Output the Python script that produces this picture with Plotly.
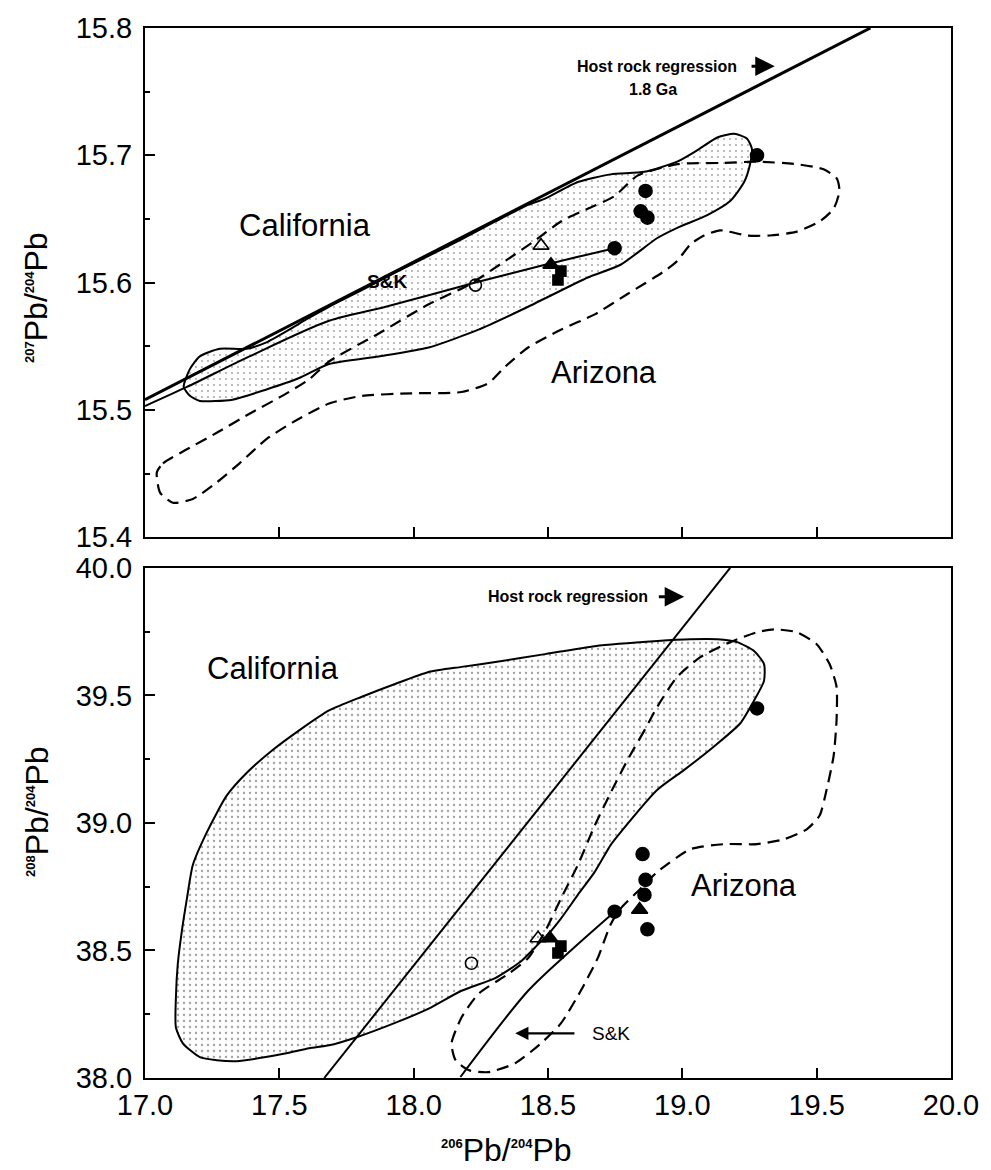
import plotly.graph_objects as go

FONT = "Liberation Sans, Arial, Helvetica, sans-serif"

# ---------------- upper panel: 207Pb/204Pb vs 206Pb/204Pb ----------------
cal_top_x = [17.144, 17.167, 17.204, 17.278, 17.378, 17.452, 17.537, 17.600, 17.685, 17.807,
             17.933, 18.056, 18.178, 18.304, 18.426, 18.489, 18.611, 18.733, 18.859, 18.981,
             19.056, 19.130, 19.193, 19.241, 19.259, 19.252, 19.230, 19.178, 19.093, 18.981,
             18.907, 18.770, 18.648, 18.426, 18.241, 18.056, 17.870, 17.685, 17.574, 17.452,
             17.326, 17.204, 17.167, 17.144]
cal_top_y = [15.518, 15.532, 15.542, 15.548, 15.548, 15.553, 15.563, 15.571, 15.581, 15.594,
             15.608, 15.621, 15.634, 15.648, 15.661, 15.666, 15.679, 15.685, 15.687, 15.695,
             15.704, 15.714, 15.717, 15.713, 15.705, 15.693, 15.679, 15.664, 15.653, 15.643,
             15.635, 15.614, 15.604, 15.581, 15.563, 15.549, 15.542, 15.536, 15.525, 15.516,
             15.508, 15.507, 15.511, 15.518]

az_top_x = [17.044, 17.067, 17.156, 17.267, 17.389, 17.511, 17.611, 17.685, 17.870, 18.056,
            18.204, 18.341, 18.452, 18.548, 18.648, 18.748, 18.833, 18.981, 19.156, 19.278,
            19.426, 19.526, 19.574, 19.585, 19.563, 19.511, 19.426, 19.326, 19.241, 19.141,
            19.081, 19.030, 18.981, 18.933, 18.796, 18.674, 18.548, 18.426, 18.341, 18.278,
            18.178, 17.993, 17.807, 17.685, 17.548, 17.452, 17.352, 17.267, 17.178, 17.104,
            17.056, 17.044]
az_top_y = [15.451, 15.458, 15.469, 15.482, 15.497, 15.511, 15.524, 15.538, 15.560, 15.583,
            15.598, 15.617, 15.633, 15.648, 15.658, 15.668, 15.684, 15.693, 15.694, 15.695,
            15.693, 15.689, 15.682, 15.672, 15.658, 15.648, 15.640, 15.637, 15.637, 15.641,
            15.637, 15.630, 15.617, 15.609, 15.591, 15.575, 15.563, 15.549, 15.534, 15.521,
            15.514, 15.513, 15.511, 15.505, 15.490, 15.477, 15.458, 15.443, 15.430, 15.427,
            15.435, 15.451]

sk_top_x = [17.000, 17.156, 17.389, 17.685, 17.896, 18.230, 18.489, 18.748]
sk_top_y = [15.503, 15.518, 15.542, 15.570, 15.581, 15.600, 15.614, 15.627]

reg_top_x = [17.00, 19.70]
reg_top_y = [15.508, 15.800]

top_fcirc_x = [19.278, 18.863, 18.845, 18.870, 18.748]
top_fcirc_y = [15.700, 15.672, 15.656, 15.651, 15.627]
top_ftri_x = [18.511]
top_ftri_y = [15.614]
top_otri_x = [18.474]
top_otri_y = [15.629]
top_fsq_x = [18.548, 18.537]
top_fsq_y = [15.609, 15.602]
top_ocirc_x = [18.230]
top_ocirc_y = [15.598]

# ---------------- lower panel: 208Pb/204Pb vs 206Pb/204Pb ----------------
cal_bot_x = [17.230, 17.304, 17.378, 17.474, 17.574, 17.685, 17.807, 17.933, 18.056, 18.178,
             18.304, 18.489, 18.674, 18.907, 19.030, 19.130, 19.204, 19.267, 19.304, 19.304,
             19.267, 19.215, 19.119, 19.007, 18.907, 18.770, 18.733, 18.674, 18.611, 18.548,
             18.500, 18.463, 18.400, 18.304, 18.178, 18.056, 17.933, 17.785, 17.685, 17.611,
             17.526, 17.426, 17.341, 17.267, 17.204, 17.141, 17.115, 17.115, 17.122, 17.137,
             17.156, 17.178, 17.230]
cal_bot_y = [38.963, 39.107, 39.196, 39.285, 39.363, 39.441, 39.495, 39.546, 39.592, 39.612,
             39.631, 39.662, 39.693, 39.713, 39.720, 39.720, 39.709, 39.674, 39.623, 39.557,
             39.480, 39.390, 39.301, 39.208, 39.130, 38.963, 38.913, 38.808, 38.718, 38.625,
             38.563, 38.524, 38.458, 38.392, 38.342, 38.272, 38.217, 38.159, 38.128, 38.117,
             38.097, 38.078, 38.066, 38.070, 38.082, 38.136, 38.198, 38.315, 38.447, 38.575,
             38.703, 38.835, 38.963]

az_bot_x = [18.907, 18.859, 18.796, 18.733, 18.674, 18.611, 18.548, 18.489, 18.426, 18.352,
            18.241, 18.178, 18.141, 18.156, 18.204, 18.278, 18.378, 18.474, 18.548, 18.622,
            18.685, 18.733, 18.770, 18.844, 18.907, 19.030, 19.156, 19.278, 19.378, 19.463,
            19.511, 19.537, 19.563, 19.574, 19.574, 19.548, 19.500, 19.426, 19.341, 19.278,
            19.178, 19.067, 18.981, 18.907]
az_bot_y = [39.456, 39.363, 39.247, 39.118, 38.990, 38.835, 38.703, 38.575, 38.470, 38.408,
            38.330, 38.237, 38.136, 38.070, 38.031, 38.023, 38.058, 38.136, 38.214, 38.342,
            38.470, 38.602, 38.664, 38.742, 38.808, 38.897, 38.917, 38.917, 38.936, 38.975,
            39.029, 39.130, 39.262, 39.402, 39.534, 39.623, 39.701, 39.748, 39.759, 39.748,
            39.709, 39.650, 39.573, 39.456]

sk_bot_x = [18.174, 18.426, 18.585, 18.748]
sk_bot_y = [38.004, 38.342, 38.500, 38.652]

reg_bot_x = [17.667, 19.178]
reg_bot_y = [38.000, 40.000]

bot_fcirc_x = [19.278, 18.852, 18.863, 18.859, 18.870, 18.748]
bot_fcirc_y = [39.449, 38.878, 38.777, 38.718, 38.583, 38.652]
bot_ftri_x = [18.841, 18.507]
bot_ftri_y = [38.660, 38.548]
bot_otri_x = [18.463]
bot_otri_y = [38.548]
bot_fsq_x = [18.548, 18.537]
bot_fsq_y = [38.517, 38.490]
bot_ocirc_x = [18.215]
bot_ocirc_y = [38.450]

x_ticks = [17.0, 17.5, 18.0, 18.5, 19.0, 19.5, 20.0]
y_top_ticks = [15.4, 15.5, 15.6, 15.7, 15.8]
y_top_minor = [15.45, 15.55, 15.65, 15.75]
y_bot_ticks = [38.0, 38.5, 39.0, 39.5, 40.0]
y_bot_minor = [38.25, 38.75, 39.25, 39.75]

fig = go.Figure()


def add_panel(xa, ya, cal_x, cal_y, az_x, az_y, sk_x, sk_y, reg_x, reg_y, reg_w,
              fc, ft, ot, fs, oc, solidity):
    # California field: stippled, solid outline
    fig.add_trace(go.Scatter(
        x=cal_x, y=cal_y, xaxis=xa, yaxis=ya, mode="lines", fill="toself",
        fillcolor="rgba(0,0,0,0)",
        fillpattern=dict(shape=".", size=6, solidity=solidity, fgcolor="#444",
                         bgcolor="white", fillmode="overlay"),
        line=dict(color="black", width=2, shape="spline", smoothing=0.6),
        hoverinfo="skip"))
    # Arizona field: dashed outline
    fig.add_trace(go.Scatter(
        x=az_x, y=az_y, xaxis=xa, yaxis=ya, mode="lines",
        line=dict(color="black", width=2.2, dash="12px,7px", shape="spline", smoothing=0.6),
        hoverinfo="skip"))
    # Stacey & Kramers growth curve
    fig.add_trace(go.Scatter(
        x=sk_x, y=sk_y, xaxis=xa, yaxis=ya, mode="lines",
        line=dict(color="black", width=2, shape="spline", smoothing=0.8),
        hoverinfo="skip"))
    # host rock regression
    fig.add_trace(go.Scatter(
        x=reg_x, y=reg_y, xaxis=xa, yaxis=ya, mode="lines",
        line=dict(color="black", width=reg_w), hoverinfo="skip"))
    # samples
    marks = [
        (fc, "circle", 13),
        (ft, "triangle-up", 14),
        (ot, "triangle-up-open", 14),
        (fs, "square", 10),
        (oc, "circle-open", 12),
    ]
    for (mx, my), sym, size in marks:
        fig.add_trace(go.Scatter(
            x=mx, y=my, xaxis=xa, yaxis=ya, mode="markers",
            marker=dict(symbol=sym, size=size, color="black",
                        line=dict(color="black", width=1.6)),
            hoverinfo="skip"))


add_panel("x", "y", cal_top_x, cal_top_y, az_top_x, az_top_y, sk_top_x, sk_top_y,
          reg_top_x, reg_top_y, 3,
          (top_fcirc_x, top_fcirc_y), (top_ftri_x, top_ftri_y), (top_otri_x, top_otri_y),
          (top_fsq_x, top_fsq_y), (top_ocirc_x, top_ocirc_y), 0.08)
add_panel("x2", "y2", cal_bot_x, cal_bot_y, az_bot_x, az_bot_y, sk_bot_x, sk_bot_y,
          reg_bot_x, reg_bot_y, 2,
          (bot_fcirc_x, bot_fcirc_y), (bot_ftri_x, bot_ftri_y), (bot_otri_x, bot_otri_y),
          (bot_fsq_x, bot_fsq_y), (bot_ocirc_x, bot_ocirc_y), 0.12)

axis_common = dict(showline=True, linecolor="black", linewidth=2, mirror=True,
                   ticks="inside", ticklen=10, tickwidth=2, tickcolor="black",
                   showgrid=False, zeroline=False,
                   tickfont=dict(family=FONT, size=29, color="black"))

tick_txt = lambda v: [f"{t:.1f}" for t in v]

fig.update_layout(
    width=991, height=1170,
    margin=dict(l=145, r=36, t=18, b=92),
    paper_bgcolor="white", plot_bgcolor="white",
    showlegend=False,
    xaxis=dict(axis_common, domain=[0, 1], anchor="y", range=[17, 20],
               tickvals=x_ticks, showticklabels=False),
    yaxis=dict(axis_common, domain=[0.5151, 1], anchor="x", range=[15.4, 15.8],
               tickvals=y_top_ticks, ticktext=tick_txt(y_top_ticks), ticklabelstandoff=5,
               minor=dict(tickvals=y_top_minor, ticks="inside", ticklen=5, tickwidth=2,
                          tickcolor="black")),
    xaxis2=dict(axis_common, domain=[0, 1], anchor="y2", range=[17, 20],
                tickvals=x_ticks, ticktext=tick_txt(x_ticks), ticklabelstandoff=0),
    yaxis2=dict(axis_common, domain=[0, 0.4858], anchor="x2", range=[38, 40],
                tickvals=y_bot_ticks, ticktext=tick_txt(y_bot_ticks), ticklabelstandoff=5,
                minor=dict(tickvals=y_bot_minor, ticks="inside", ticklen=5, tickwidth=2,
                           tickcolor="black")),
)

big = dict(family=FONT, size=31, color="black")
small_bold = dict(family=FONT, size=16, color="black")

ann = [
    # region labels
    dict(x=17.596, y=15.645, xref="x", yref="y", text="California", font=big),
    dict(x=18.707, y=15.529, xref="x", yref="y", text="Arizona", font=big),
    dict(x=17.900, y=15.601, xref="x", yref="y", text="<b>S&K</b>",
         font=dict(family=FONT, size=19, color="black")),
    dict(x=17.478, y=39.604, xref="x2", yref="y2", text="California", font=big),
    dict(x=19.230, y=38.753, xref="x2", yref="y2", text="Arizona", font=big),
    dict(x=18.656, y=38.175, xref="x2", yref="y2", text="S&K", xanchor="left",
         font=dict(family=FONT, size=19, color="black")),
    # regression captions
    dict(x=18.907, y=15.770, xref="x", yref="y", text="<b>Host rock regression</b>",
         font=small_bold),
    dict(x=18.889, y=15.752, xref="x", yref="y", text="<b>1.8 Ga</b>", font=small_bold),
    dict(x=18.574, y=39.887, xref="x2", yref="y2", text="<b>Host rock regression</b>",
         font=small_bold),
]
for a in ann:
    a.setdefault("showarrow", False)
    fig.add_annotation(**a)

# arrows
arrow_style = dict(showarrow=True, arrowhead=2, arrowsize=1.3, arrowwidth=3,
                   arrowcolor="black", text="", standoff=0, startstandoff=0)
fig.add_annotation(x=19.344, y=15.770, xref="x", yref="y", ax=19.252, ay=15.770,
                   axref="x", ayref="y", **arrow_style)
fig.add_annotation(x=19.007, y=39.887, xref="x2", yref="y2", ax=18.907, ay=39.887,
                   axref="x2", ayref="y2", **arrow_style)
fig.add_annotation(x=18.378, y=38.175, xref="x2", yref="y2", ax=18.604, ay=38.175,
                   axref="x2", ayref="y2", showarrow=True, arrowhead=2, arrowsize=1.1,
                   arrowwidth=2.4, arrowcolor="black", text="", standoff=0)

# axis titles
sup = lambda s: f"<sup><span style='font-size:13px'><b>{s}</b></span></sup>"
title_font = dict(family=FONT, size=32, color="black")
fig.add_annotation(x=-0.1346, y=0.7434, xref="paper", yref="paper", textangle=-90,
                   xanchor="center", yanchor="middle",
                   text=f"{sup('207')}Pb/{sup('204')}Pb", showarrow=False, font=title_font)
fig.add_annotation(x=-0.1346, y=0.2538, xref="paper", yref="paper", textangle=-90,
                   xanchor="center", yanchor="middle",
                   text=f"{sup('208')}Pb/{sup('204')}Pb", showarrow=False, font=title_font)
fig.add_annotation(x=0.448, y=-0.069, xref="paper", yref="paper",
                   xanchor="center", yanchor="middle",
                   text=f"{sup('206')}Pb/{sup('204')}Pb", showarrow=False, font=title_font)

fig.write_html("out.html")
